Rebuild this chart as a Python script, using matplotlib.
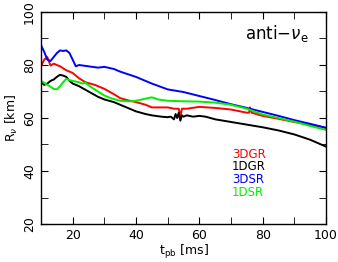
import numpy as np
import matplotlib
matplotlib.use("Agg")
import matplotlib.pyplot as plt
from matplotlib.ticker import MultipleLocator

# values
t_3dgr = [10, 11, 12, 13, 14, 15, 16, 18, 20, 22, 24, 27, 30, 33, 35, 38, 40, 43, 45, 48, 50, 52, 53.5, 54, 54.5, 56, 60, 65, 70, 75, 75.7, 76, 76.5, 80, 85, 90, 95, 100]
r_3dgr = [79.5, 82, 83, 79.8, 80.5, 80, 79.5, 78, 77, 75, 73.5, 72.5, 71, 69, 67.5, 66.5, 66, 65, 64, 64, 64, 63.5, 63.5, 60.5, 63.5, 63.5, 64.2, 63.8, 63.2, 62, 62, 64, 62, 60.8, 59.7, 58.5, 57.5, 56.3]

t_1dgr = [10, 11, 12, 13, 14, 15, 16, 17, 18, 19, 20, 22, 25, 28, 30, 33, 35, 38, 40, 43, 45, 48, 50, 51, 52, 52.5, 53, 53.5, 54, 54.5, 55, 56, 58, 60, 62, 65, 70, 75, 80, 85, 90, 95, 100]
r_1dgr = [73.5, 72.5, 73, 74, 74.5, 75.5, 76.3, 76, 75.5, 74, 73, 72, 70, 68, 67, 66, 65, 63.5, 62.5, 61.5, 61, 60.5, 60.3, 60.5, 59.5, 61.5, 60, 62, 59, 61, 60.5, 61, 60.5, 60.8, 60.5, 59.5, 58.5, 57.5, 56.5, 55.3, 53.8, 51.8, 49.2]

t_3dsr = [10, 11, 12, 13, 14, 15, 16, 17, 18, 19, 20, 21, 22, 25, 28, 30, 33, 35, 40, 45, 50, 55, 60, 65, 70, 75, 80, 85, 90, 95, 100]
r_3dsr = [87.5, 85, 82, 81.5, 83, 84.5, 85.5, 85.3, 85.5, 84.5, 82, 79.5, 80, 79.5, 79, 79.3, 78.5, 77.5, 75.5, 73, 70.8, 69.8, 68.3, 66.8, 65.2, 63.8, 62.3, 60.8, 59.2, 57.8, 56.3]

t_1dsr = [10, 11, 12, 13, 14, 15, 16, 17, 18, 19, 20, 22, 23, 24, 26, 28, 30, 32, 35, 38, 40, 43, 45, 47, 50, 55, 60, 65, 70, 75, 80, 85, 90, 95, 100]
r_1dsr = [74, 73.3, 72.5, 71.8, 71, 70.8, 72, 73.5, 74.8, 74.3, 74, 73.5, 73, 73.3, 71.5, 70, 68.5, 67.5, 66.5, 66.3, 66.5, 67.3, 67.8, 67, 66.5, 66.3, 66.2, 65.8, 65, 63.5, 61.3, 60, 58.6, 57, 55.5]

labels = ["3DGR", "1DGR", "3DSR", "1DSR"]
colors = ["#ff0000", "#000000", "#0000ff", "#00ee00"]

fig = plt.figure(figsize=(3.38, 2.62), dpi=100)
ax = fig.add_axes([41 / 338, 38 / 262, 285 / 338, 212 / 262])

series = [(t_3dgr, r_3dgr), (t_1dgr, r_1dgr), (t_3dsr, r_3dsr), (t_1dsr, r_1dsr)]
for (t, r), c in zip(series, colors):
    ax.plot(t, r, color=c, lw=1.4)

ax.set_xlim(10, 100)
ax.set_ylim(20, 100)
ax.xaxis.set_major_locator(MultipleLocator(20))
ax.xaxis.set_minor_locator(MultipleLocator(10))
ax.yaxis.set_major_locator(MultipleLocator(20))
ax.yaxis.set_minor_locator(MultipleLocator(10))
ax.tick_params(which="both", direction="in", top=True, right=True, labelsize=9)
ax.tick_params(which="major", length=5)
ax.tick_params(which="minor", length=5)
for lab in ax.get_yticklabels():
    lab.set_rotation(90)
    lab.set_va("center")
for s in ax.spines.values():
    s.set_linewidth(1.0)

ax.set_xlabel(r"t$_{\rm pb}$ [ms]", fontsize=9, labelpad=1)
ax.set_ylabel(r"R$_\nu$ [km]", fontsize=9, labelpad=2)

ax.text(0.94, 0.9, r"anti$-\nu_{\rm e}$", transform=ax.transAxes,
        ha="right", va="center", fontsize=12)

for i, (lab, c) in enumerate(zip(labels, colors)):
    ax.text(0.67, 0.33 - i * 0.061, lab, color=c, transform=ax.transAxes,
            ha="left", va="center", fontsize=8.5)

fig.savefig("out.png", dpi=100)
